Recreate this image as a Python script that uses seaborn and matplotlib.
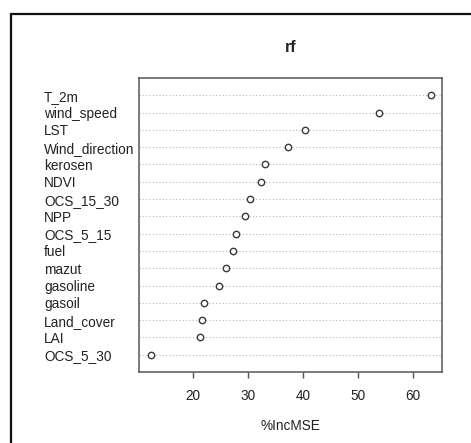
import matplotlib
matplotlib.use("Agg")
import matplotlib.pyplot as plt
import seaborn as sns
import pandas as pd
from matplotlib.patches import Rectangle

# variable importance (random forest), top to bottom
variables = ['T_2m', 'wind_speed', 'LST', 'Wind_direction', 'kerosen', 'NDVI',
             'OCS_15_30', 'NPP', 'OCS_5_15', 'fuel', 'mazut', 'gasoline',
             'gasoil', 'Land_cover', 'LAI', 'OCS_5_30']
inc_mse = [63.3, 53.9, 40.3, 37.3, 33.0, 32.4, 30.4, 29.4, 27.8, 27.2, 26.0,
           24.7, 22.0, 21.6, 21.3, 12.4]
x_ticks = [20, 30, 40, 50, 60]

df = pd.DataFrame({'var': variables, 'IncMSE': inc_mse})

sns.set_style('white')
plt.rcParams['font.family'] = ['Liberation Sans', 'DejaVu Sans']

W, H = 471, 443
fs = 9.8
fig = plt.figure(figsize=(W / 100, H / 100), dpi=100)
ax = fig.add_axes([139 / W, 1 - 372 / H, (442 - 139) / W, (372 - 78) / H])

# dotted guide lines
for i in range(len(variables)):
    ax.axhline(i, color='#b8b8b8', lw=0.8, ls=(0, (1, 2)), zorder=1)

sns.stripplot(data=df, x='IncMSE', y='var', jitter=False, ax=ax,
              marker='o', size=4.6, color='white', edgecolor='#3a3a3a',
              linewidth=1.0, zorder=3)

ax.set_xlim(10.18, 65.27)
ax.set_ylim(len(variables), -1)
ax.set_xticks(x_ticks)
ax.set_xticklabels([str(t) for t in x_ticks], fontsize=fs, color='#222222')
ax.tick_params(axis='x', length=4.5, width=1, color='#555555', pad=8, bottom=True)
ax.tick_params(axis='y', length=0, pad=68.4)
for lab in ax.get_yticklabels():
    lab.set_ha('left')
    lab.set_fontsize(fs)
    lab.set_color('#222222')
ax.set_ylabel('')
ax.set_xlabel('%IncMSE', fontsize=fs, color='#222222', labelpad=11)
for s in ax.spines.values():
    s.set_color('#555555')
    s.set_linewidth(1.1)
ax.set_title('rf', fontsize=11.5, fontweight='bold', pad=19)

# outer frame of the screenshot
fig.patches.append(Rectangle((11 / W, -0.05), 1.0, 1 - 14 / H + 0.05,
                             transform=fig.transFigure, fill=False,
                             edgecolor='#111111', linewidth=1.6))

fig.savefig('out.png', dpi=100)
